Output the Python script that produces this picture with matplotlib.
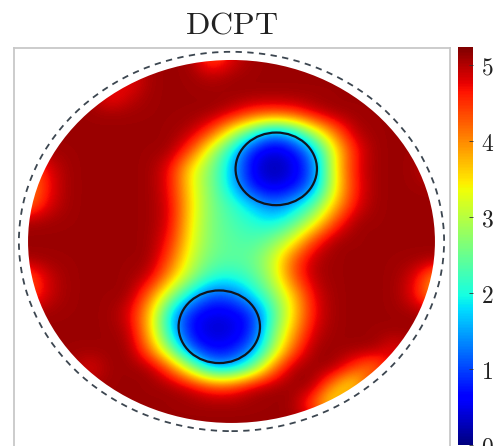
#!/usr/bin/env python3
"""
Recreate the DCPT reconstruction panel: jet-coloured field on a disk,
two inclusion outlines and a dashed domain boundary.
"""

import numpy as np
import matplotlib
matplotlib.use("Agg")
import matplotlib.pyplot as plt
from matplotlib.patches import Circle

plt.rcParams['mathtext.fontset'] = 'cm'

# grid of the field (rows y = 1.0 ... -1.0, cols x = -1.0 ... 1.0, step 0.1)
grid_x = [round(-1.0 + 0.1 * i, 1) for i in range(21)]
grid_y = [round(1.0 - 0.1 * i, 1) for i in range(21)]
B = 5.1
field = [
    # -1.0 -0.9 -0.8 -0.7 -0.6 -0.5 -0.4 -0.3 -0.2 -0.1  0.0  0.1  0.2  0.3  0.4  0.5  0.6  0.7  0.8  0.9  1.0
    [B,   B,   B,   B,   B,   B,   B,   B,   B,   4.2, 4.8, B,   B,   B,   B,   B,   B,   B,   B,   B,   B],    # 1.0
    [B,   B,   B,   B,   B,   4.6, B,   B,   B,   5.0, B,   B,   B,   B,   B,   B,   B,   B,   B,   B,   B],    # 0.9
    [B,   B,   B,   B,   4.5, 4.9, B,   B,   B,   B,   B,   B,   B,   B,   B,   B,   B,   B,   B,   B,   B],    # 0.8
    [B,   B,   B,   B,   B,   B,   B,   B,   B,   B,   4.9, 4.5, 4.4, 4.5, 4.9, B,   B,   B,   B,   B,   B],    # 0.7
    [B,   B,   B,   B,   B,   B,   B,   B,   5.0, 4.4, 3.2, 2.2, 1.3, 1.8, 3.0, 4.1, 5.0, B,   B,   B,   B],    # 0.6
    [B,   B,   B,   B,   B,   B,   B,   B,   4.4, 3.0, 1.9, 0.7, 0.4, 0.6, 1.5, 3.3, 4.6, B,   B,   B,   B],    # 0.5
    [4.1, 4.8, B,   B,   B,   B,   B,   4.7, 3.4, 2.6, 1.6, 0.5, 0.15, 0.4, 1.1, 3.3, 4.7, B,  B,   B,   4.6],  # 0.4
    [3.9, 4.7, B,   B,   B,   B,   B,   4.7, 3.4, 2.6, 1.7, 0.7, 0.4, 0.6, 1.3, 3.2, 4.6, B,   B,   B,   B],    # 0.3
    [4.1, 4.8, B,   B,   B,   B,   B,   4.8, 3.5, 2.6, 2.2, 1.7, 1.2, 1.6, 2.3, 3.6, 4.7, B,   B,   B,   B],    # 0.2
    [B,   B,   B,   B,   B,   B,   B,   4.8, 3.4, 2.6, 2.3, 2.1, 1.9, 2.3, 3.2, 4.4, B,   B,   B,   B,   B],    # 0.1
    [B,   B,   B,   B,   B,   B,   B,   4.6, 3.3, 2.6, 2.4, 2.3, 2.6, 3.3, 4.5, B,   B,   B,   B,   B,   B],    # 0.0
    [B,   B,   B,   B,   B,   B,   B,   4.3, 3.1, 2.5, 2.4, 2.5, 3.1, 4.3, 5.0, B,   B,   B,   B,   B,   B],    # -0.1
    [4.2, 4.9, B,   B,   B,   B,   4.9, 3.8, 2.8, 2.1, 2.0, 2.3, 3.0, 4.3, 5.0, B,   B,   B,   B,   4.8, 3.8],  # -0.2
    [4.3, 4.9, B,   B,   B,   B,   4.1, 2.8, 1.7, 1.0, 1.1, 1.8, 2.6, 3.6, 4.8, B,   B,   B,   B,   4.7, 3.7],  # -0.3
    [B,   B,   B,   B,   B,   4.8, 3.6, 1.7, 0.7, 0.45, 0.5, 0.8, 2.2, 3.5, 4.7, B,  B,   B,   B,   B,   B],    # -0.4
    [B,   B,   B,   B,   B,   5.0, 3.6, 1.8, 0.6, 0.35, 0.4, 0.8, 2.5, 3.8, 4.9, B,  B,   B,   B,   B,   B],    # -0.5
    [B,   B,   B,   B,   B,   B,   4.1, 2.6, 1.1, 0.6, 0.7, 1.3, 2.8, 4.3, B,   B,   B,   B,   4.6, B,   B],    # -0.6
    [B,   B,   B,   4.7, B,   B,   B,   4.3, 2.9, 1.6, 1.6, 2.5, 4.1, B,   B,   B,   4.4, 3.8, B,   B,   B],    # -0.7
    [B,   B,   B,   B,   B,   B,   B,   B,   4.9, 4.5, 4.5, 5.0, B,   B,   B,   3.8, 3.0, B,   B,   B,   B],    # -0.8
    [B,   B,   B,   B,   B,   B,   B,   B,   B,   B,   B,   B,   B,   B,   4.2, 3.0, B,   B,   B,   B,   B],    # -0.9
    [B,   B,   B,   B,   B,   B,   B,   B,   B,   B,   B,   B,   B,   B,   B,   B,   B,   B,   B,   B,   B],    # -1.0
]

# inclusions (centre x, centre y, radius) and domain
incl_x = [0.22, -0.06]
incl_y = [0.40, -0.47]
incl_r = [0.20, 0.20]
disk_r = 1.0
boundary_r = 1.045

cbar_ticks = [0, 1, 2, 3, 4, 5]
vmin, vmax = 0.0, 5.24

W, H = 497, 446
fig = plt.figure(figsize=(W / 100, H / 100), dpi=100)

# main axes (pixel box 14..450 x 48..448, bottom runs off the canvas)
ax = fig.add_axes([14 / W, (H - 448) / H, 436 / W, 400 / H])
ax.set_xlim(-1.069, 1.074)
ax.set_ylim(-1.138, 1.066)
ax.set_aspect('auto')

step = 0.1
extent = (grid_x[0] - step / 2, grid_x[-1] + step / 2, grid_y[-1] - step / 2, grid_y[0] + step / 2)
im = ax.imshow(np.array(field), extent=extent, origin='upper', cmap='jet',
               vmin=vmin, vmax=vmax, interpolation='bicubic', aspect='auto')
clip = Circle((0, 0), disk_r, transform=ax.transData)
im.set_clip_path(clip)

# dashed domain boundary
ax.add_patch(Circle((0, 0), boundary_r, fill=False, linestyle=(0, (3.5, 3)),
                    edgecolor='#3c4650', linewidth=1.3))

# inclusion outlines
for cx, cy, r in zip(incl_x, incl_y, incl_r):
    ax.add_patch(Circle((cx, cy), r, fill=False, edgecolor='#10151f', linewidth=1.6))

ax.set_xticks([])
ax.set_yticks([])
for s in ax.spines.values():
    s.set_color('#c8c8c8')
    s.set_linewidth(1.3)

# colorbar
cax = fig.add_axes([458 / W, (H - 445) / H, 15 / W, 398 / H])
cb = fig.colorbar(im, cax=cax, ticks=cbar_ticks)
cb.outline.set_linewidth(0)
cax.tick_params(direction='in', length=3, width=0.6, color='#333333', pad=6)
cax.set_yticklabels([rf'$\mathrm{{{t}}}$' for t in cbar_ticks], fontsize=17, color='#222222')

fig.text(232 / W, 1 - 34 / H, r'$\mathrm{DCPT}$', ha='center', va='baseline',
         fontsize=23, color='#222222')

plt.savefig('out.png', dpi=100)
plt.close()
